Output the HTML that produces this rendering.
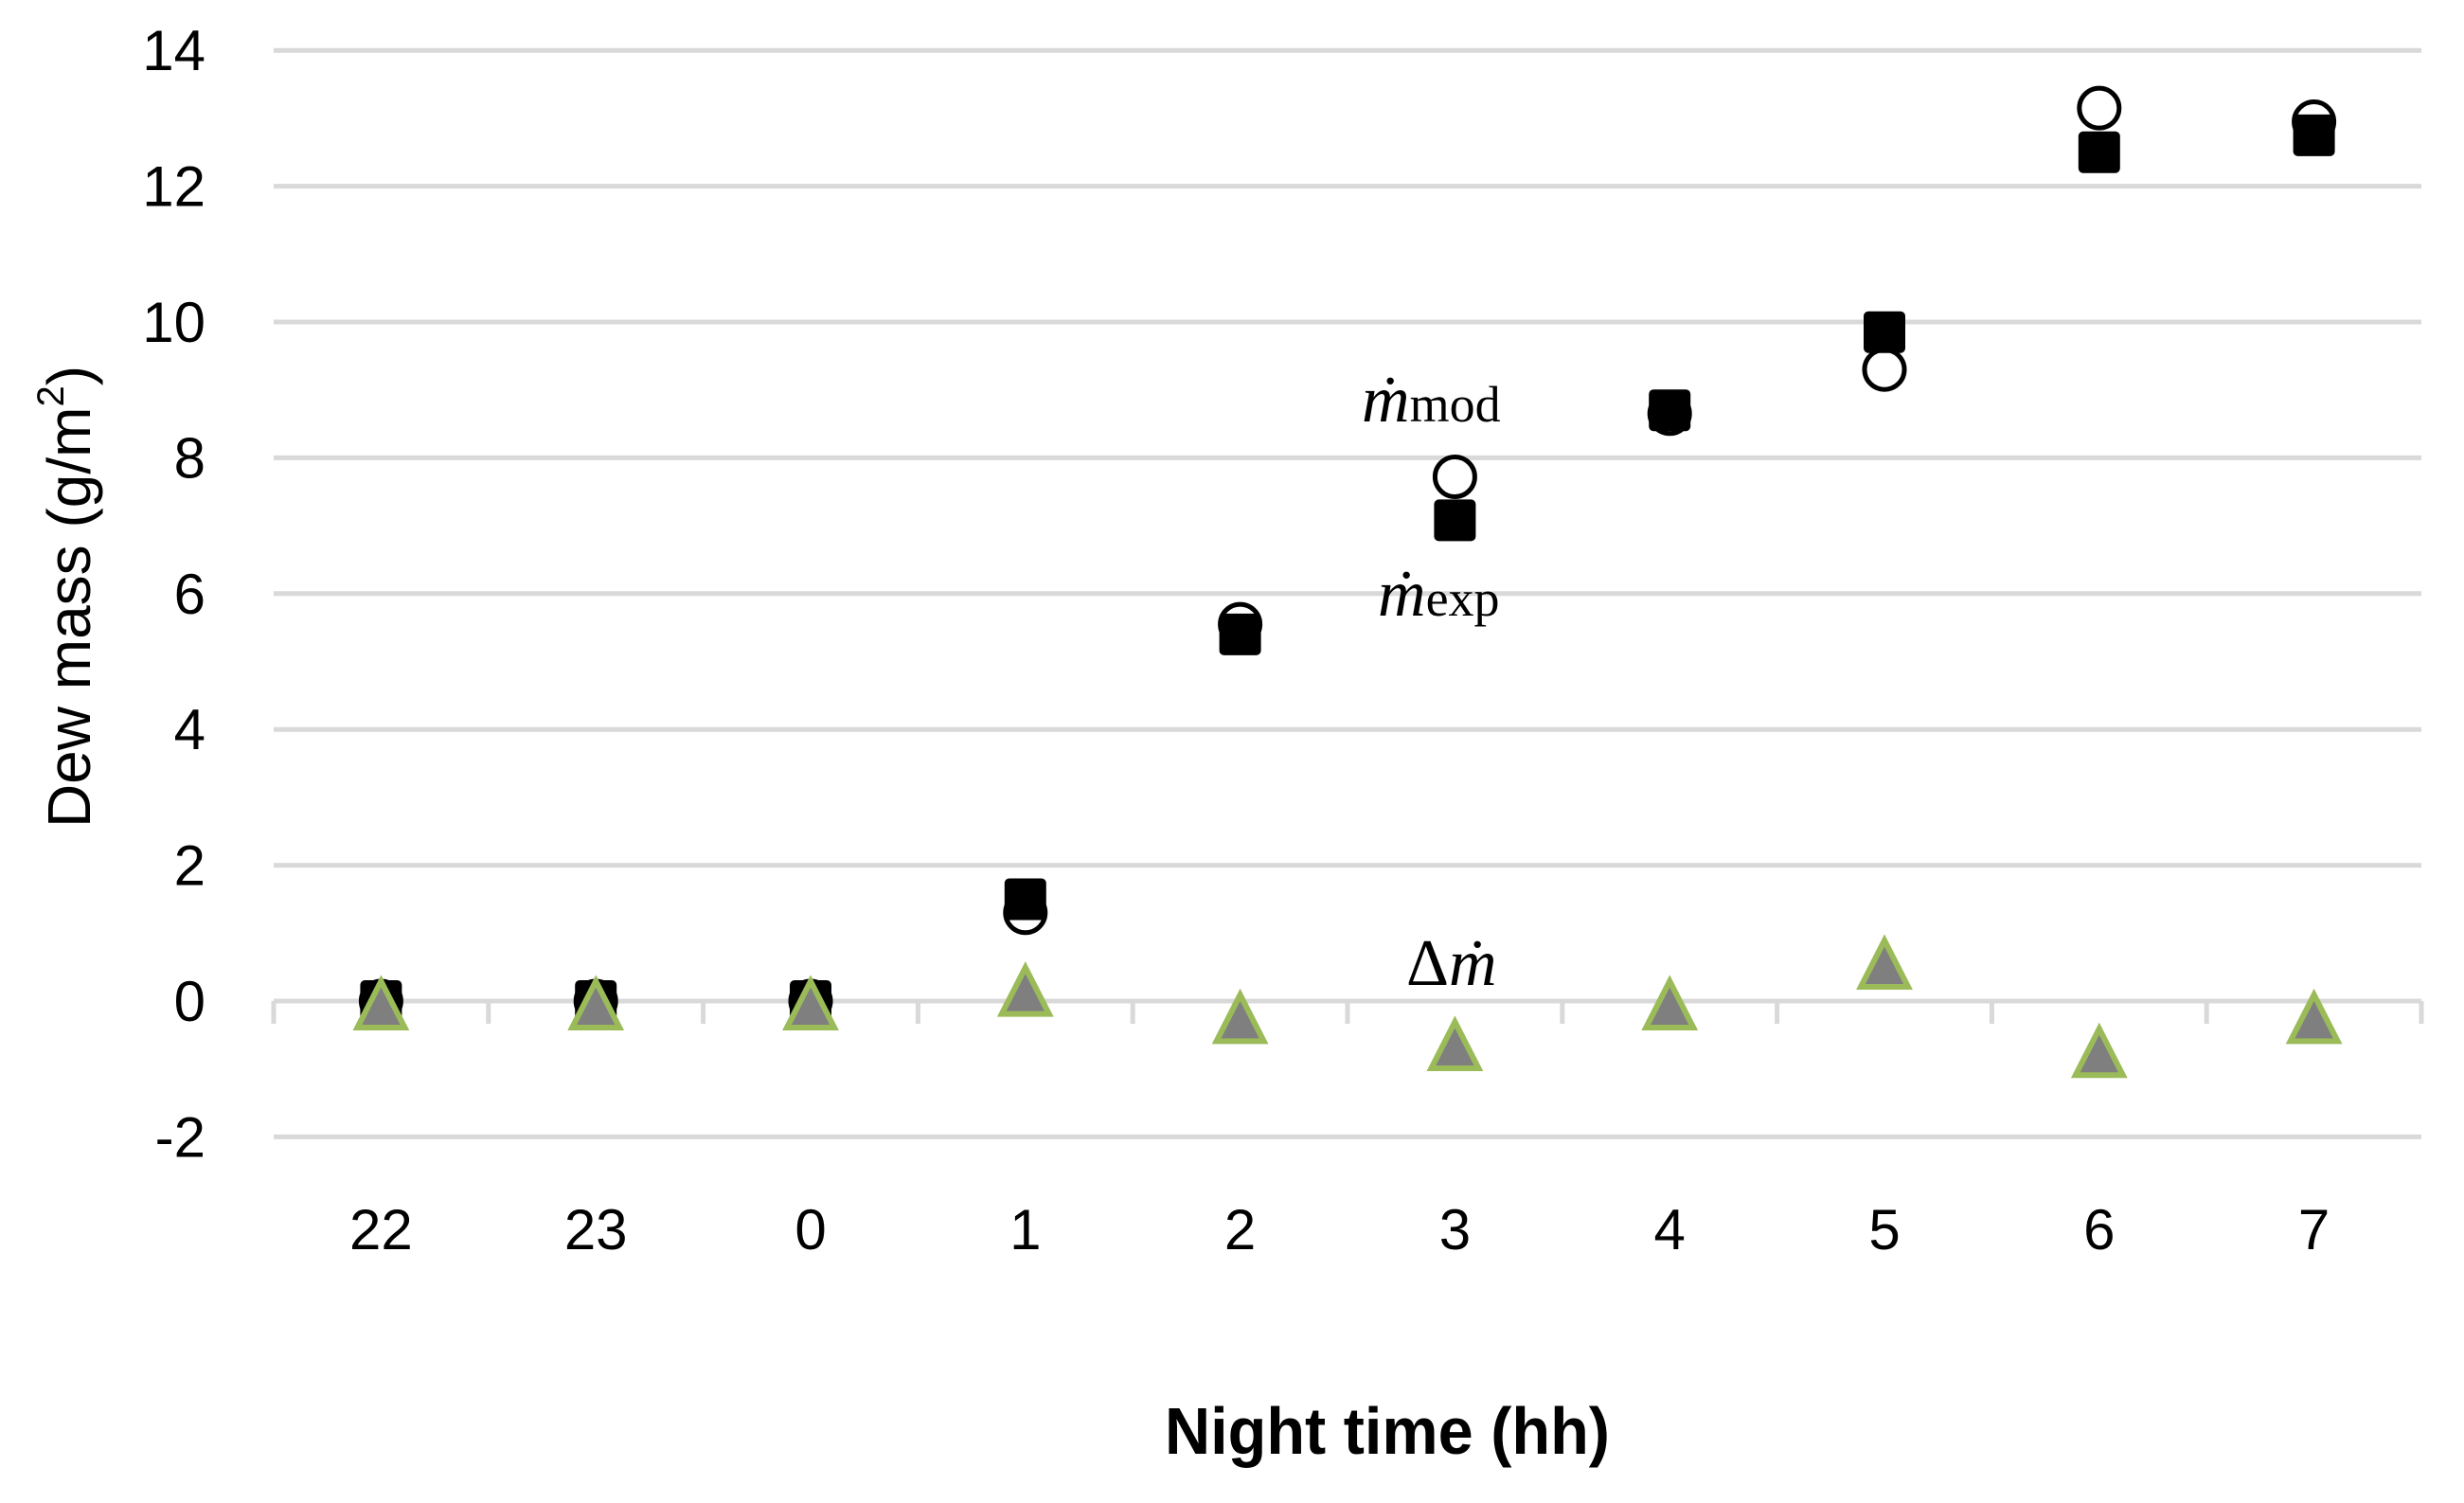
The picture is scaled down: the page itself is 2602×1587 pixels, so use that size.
<!DOCTYPE html>
<html><head><meta charset="utf-8"><style>
html,body{margin:0;padding:0;background:#fff;}
</style></head><body>
<svg id="chart" width="2602" height="1582" viewBox="0 0 2602 1582" xmlns="http://www.w3.org/2000/svg" style="font-family:'Liberation Sans',sans-serif">
<g id="grid"></g>
<g id="yticks"></g>
<g id="xaxis"></g>
<g id="marks"></g>
<text x="78" y="630" transform="rotate(-90 78 630)" text-anchor="middle" dominant-baseline="middle" font-size="64" fill="#000">Dew mass (g/m<tspan font-size="40" dy="-22">2</tspan><tspan dy="22">)</tspan></text>
<text x="1465" y="1535" text-anchor="middle" font-size="70" font-weight="bold" fill="#000" textLength="470" lengthAdjust="spacingAndGlyphs">Night time (hh)</text>
<text x="1438" y="445" style="font-family:'Liberation Serif',serif" font-size="70" fill="#000"><tspan font-style="italic">ṁ</tspan><tspan font-size="54">mod</tspan></text>
<text x="1455" y="650" style="font-family:'Liberation Serif',serif" font-size="70" fill="#000"><tspan font-style="italic">ṁ</tspan><tspan font-size="54">exp</tspan></text>
<text x="1485" y="1040" style="font-family:'Liberation Serif',serif" font-size="70" fill="#000">Δ<tspan font-style="italic">ṁ</tspan></text>
</svg>
<script>
const categories = ["22","23","0","1","2","3","4","5","6","7"];
const mMod = [0,0,0,1.3,5.55,7.72,8.65,9.3,13.15,12.95];
const mExp = [0,0,0,1.5,5.4,7.08,8.7,9.85,12.5,12.75];
const deltaM = [0,0,0,0.2,-0.2,-0.6,0,0.6,-0.7,-0.2];
const yTicks = [-2,0,2,4,6,8,10,12,14];

const NS="http://www.w3.org/2000/svg";
const left=289, right=2557, y0=1057, unit=71.7;
const step=(right-left)/categories.length;
const X=i=>left+step*(i+0.5);
const Y=v=>y0-v*unit;
function mk(tag,attrs,parent){const e=document.createElementNS(NS,tag);for(const k in attrs)e.setAttribute(k,attrs[k]);parent.appendChild(e);return e;}
const grid=document.getElementById('grid'), yt=document.getElementById('yticks'), xa=document.getElementById('xaxis'), marks=document.getElementById('marks');
yTicks.forEach(v=>{
  if(v!==0){const l=mk('line',{x1:left,x2:right,y1:Y(v),y2:Y(v),stroke:'#d9d9d9','stroke-width':5},grid);
  
  }
  const t=mk('text',{x:217,y:Y(v)+21,'text-anchor':'end','font-size':60,fill:'#000'},yt);
  t.textContent=v;
  
  
});
const ax=mk('line',{x1:left,x2:right,y1:Y(0),y2:Y(0),stroke:'#d9d9d9','stroke-width':5},xa);


for(let i=0;i<=categories.length;i++){
  const tk=mk('line',{x1:left+step*i,x2:left+step*i,y1:Y(0),y2:Y(0)+24,stroke:'#d9d9d9','stroke-width':5},xa);
  
  
}
categories.forEach((c,i)=>{
  const t=mk('text',{x:X(i),y:1319,'text-anchor':'middle','font-size':60,fill:'#000'},xa);
  t.textContent=c;
  
  
});
categories.forEach((c,i)=>{
  const o=mk('circle',{cx:X(i),cy:Y(mMod[i]),r:21,fill:'#fff',stroke:'#000','stroke-width':5},marks);
  
  
});
categories.forEach((c,i)=>{
  const s=mk('rect',{x:X(i)-22,y:Y(mExp[i])-22,width:44,height:44,rx:5,fill:'#000'},marks);
  
  
});
categories.forEach((c,i)=>{
  const cx=X(i), cy=Y(deltaM[i])+4;
  const p=mk('polygon',{points:`${cx},${cy-25} ${cx+25},${cy+24} ${cx-25},${cy+24}`,fill:'#7f7f7f',stroke:'#9bbb59','stroke-width':6,'stroke-linejoin':'miter'},marks);
  
  
});
</script>
</body></html>
